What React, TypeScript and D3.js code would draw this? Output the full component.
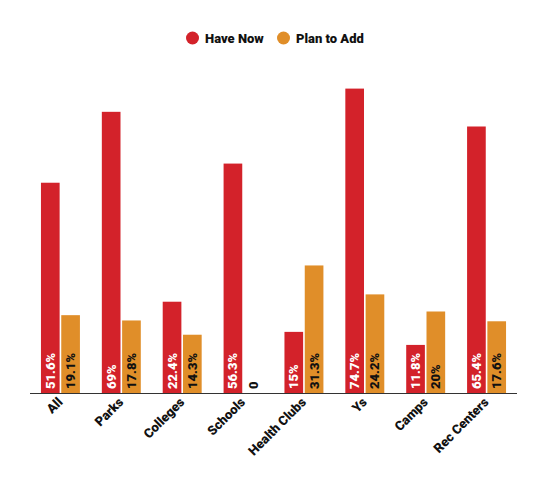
import React from "react";
import * as d3 from "d3";

const categories = ["All", "Parks", "Colleges", "Schools", "Health Clubs", "Ys", "Camps", "Rec Centers"];
const haveNow = [51.6, 69, 22.4, 56.3, 15, 74.7, 11.8, 65.4];
const planToAdd = [19.1, 17.8, 14.3, 0, 31.3, 24.2, 20, 17.6];
const seriesNames = ["Have Now", "Plan to Add"];
const colors = ["#d3222a", "#e08e29"];

export default function App() {
  const W = 550, H = 498;
  const left = 30, right = 517, baseline = 393;
  const x0 = d3.scaleBand<string>().domain(categories).range([left, right]).paddingInner(0.36).paddingOuter(0.18);
  const x1 = d3.scaleBand<string>().domain(seriesNames).range([0, x0.bandwidth()]).paddingInner(0.08);
  const y = d3.scaleLinear().domain([0, 80]).range([baseline, baseline - 326]);
  const fmt = (v: number) => (v === 0 ? "0" : `${v}%`);
  const font = "Roboto, 'Noto Sans', Arial, sans-serif";
  const series = [haveNow, planToAdd];
  return (
    <svg width={W} height={H} style={{ position: "absolute", left: 0, top: 0, fontFamily: font }}>
      <g fontWeight={900} fontSize={13}>
        <circle cx={192.5} cy={38} r={6.5} fill={colors[0]} />
        <text x={205} y={42.5} fill="#111">{seriesNames[0]}</text>
        <circle cx={283.5} cy={38} r={6.5} fill={colors[1]} />
        <text x={296} y={42.5} fill="#111">{seriesNames[1]}</text>
      </g>
      {categories.map((c, i) => (
        <g key={c} transform={`translate(${x0(c)},0)`}>
          {series.map((s, j) => {
            const v = s[i];
            const bx = x1(seriesNames[j])!;
            const cx = bx + x1.bandwidth() / 2;
            return (
              <g key={j}>
                <rect x={bx} y={y(v)} width={x1.bandwidth()} height={baseline - y(v)} fill={colors[j]} />
                <text
                  transform={`translate(${cx + 4.5},${baseline - 4}) rotate(-90)`}
                  fontSize={13}
                  fontWeight={900}
                  fill={j === 0 ? "#fff" : "#111"}
                >
                  {fmt(v)}
                </text>
              </g>
            );
          })}
        </g>
      ))}
      <line x1={left} x2={right} y1={baseline + 0.5} y2={baseline + 0.5} stroke="#333" strokeWidth={1} />
      {categories.map((c) => {
        const cx = x0(c)! + x0.bandwidth() / 2;
        return (
          <text
            key={c}
            transform={`translate(${cx + 3},${baseline + 10}) rotate(-45)`}
            textAnchor="end"
            fontSize={13}
            fontWeight={900}
            fill="#111"
          >
            {c}
          </text>
        );
      })}
    </svg>
  );
}
